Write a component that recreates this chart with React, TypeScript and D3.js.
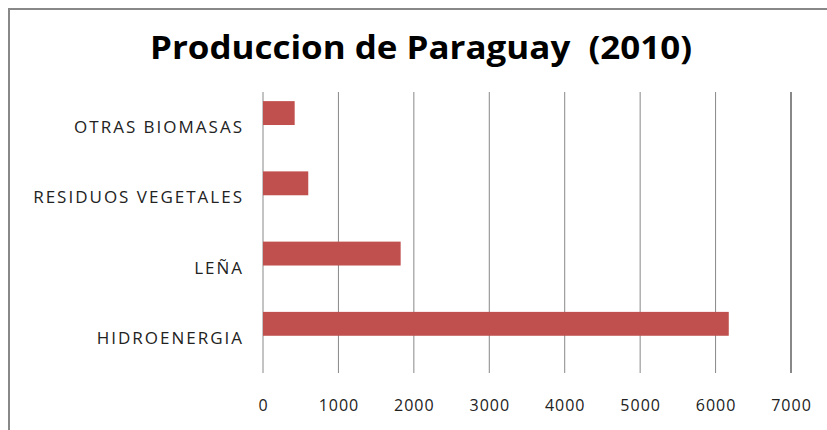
import React from 'react'
import { scaleLinear, scaleBand } from 'd3'

const categories = ['OTRAS BIOMASAS', 'RESIDUOS VEGETALES', 'LEÑA', 'HIDROENERGIA']
const values = [420, 600, 1825, 6175]
const tickValues = [0, 1000, 2000, 3000, 4000, 5000, 6000, 7000]
const title = 'Produccion de Paraguay  (2010)'

const W = 827
const H = 430
const left = 263
const right = 791
const top = 92
const bottom = 373

const App = () => {
    const x = scaleLinear().domain([0, 7000]).range([left, right])
    const y = scaleBand().domain(categories).range([top, bottom]).padding(0)
    const bw = y.bandwidth()

    return (
        <svg width={W} height={H} style={{ position: 'absolute', left: 0, top: 0, background: '#fff' }}>
            <rect x={9} y={9} width={W} height={H} fill='#fff' stroke='#888' strokeWidth={2} />
            <text x={421} y={59} textAnchor='middle' fontFamily='Open Sans, sans-serif' fontWeight='bold' fontSize={33}
                fill='#000' style={{ whiteSpace: 'pre' }} textLength={542} lengthAdjust='spacingAndGlyphs'>
                {title}
            </text>
            {/* grid */}
            {tickValues.map((t, i) => (
                <line key={t} x1={x(t)} x2={x(t)} y1={top} y2={bottom}
                    stroke='#888' strokeWidth={i === tickValues.length - 1 ? 2 : 1} />
            ))}
            {/* bars - sit in the upper part of each band, like excel with an empty 2nd series */}
            {categories.map((c, i) => (
                <rect key={c} x={x(0)} y={y(c) + bw * 0.13} width={x(values[i]) - x(0)} height={bw * 0.34} fill='#C0504D' />
            ))}
            {categories.map(c => (
                <text key={c} x={244} y={y(c) + bw / 2} dy='0.35em' textAnchor='end' letterSpacing={2}
                    fontFamily='Open Sans, sans-serif' fontSize={17} fill='#222'>{c}</text>
            ))}
            {tickValues.map(t => (
                <text key={t} x={x(t) + 0.5} y={411} textAnchor='middle' letterSpacing={1}
                    fontFamily='Open Sans, sans-serif' fontSize={16} fill='#222'>{t}</text>
            ))}
        </svg>
    )
}

export default App
